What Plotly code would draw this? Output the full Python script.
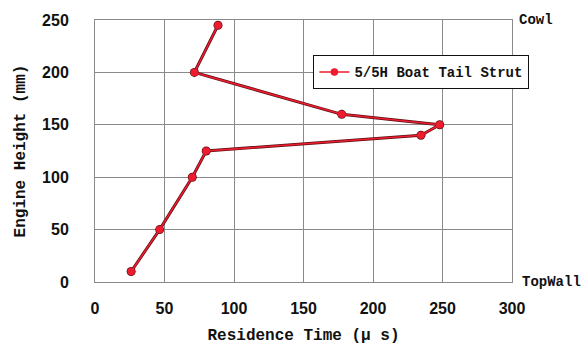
import plotly.graph_objects as go

# Residence time profile across engine height
residence_time_us = [88.5, 71.5, 177.5, 248, 234.5, 80, 70, 46.5, 26]
engine_height_mm = [245, 200, 160, 150, 140, 125, 100, 50, 10]
series_name = "5/5H Boat Tail Strut"

x_ticks = [0, 50, 100, 150, 200, 250, 300]
y_ticks = [0, 50, 100, 150, 200, 250]

mono = "Liberation Mono, DejaVu Sans Mono, monospace"
tick_font = dict(family="Liberation Sans Narrow, Liberation Sans, Arial", size=16, color="#111")

fig = go.Figure()

# dark under-stroke gives the line its outlined look
fig.add_trace(go.Scatter(
    x=residence_time_us, y=engine_height_mm, mode="lines+markers",
    line=dict(color="#5a1015", width=3.0),
    marker=dict(size=9, color="#5a1015"),
    showlegend=False, hoverinfo="skip",
))
fig.add_trace(go.Scatter(
    x=residence_time_us, y=engine_height_mm, mode="lines+markers",
    name="<b>" + series_name + "</b>",
    line=dict(color="#ee1c2e", width=1.6),
    marker=dict(size=7.5, color="#ee1c2e"),
))

fig.update_layout(
    width=582, height=352,
    margin=dict(l=95, r=70, t=18, b=70),
    paper_bgcolor="white", plot_bgcolor="white",
    showlegend=True,
    legend=dict(
        x=0.523, y=0.866, xanchor="left", yanchor="top",
        bgcolor="white", bordercolor="#111", borderwidth=1.3,
        font=dict(family=mono, size=14, color="#111"),
        itemwidth=30, tracegroupgap=0,
    ),
    annotations=[
        dict(text="<b>Cowl</b>", xref="paper", yref="paper", x=1.013, y=1.0,
             xanchor="left", yanchor="middle", showarrow=False,
             font=dict(family=mono, size=14, color="#111")),
        dict(text="<b>TopWall</b>", xref="paper", yref="paper", x=1.018, y=0.0,
             xanchor="left", yanchor="middle", showarrow=False,
             font=dict(family=mono, size=14, color="#111")),
    ],
)

fig.update_xaxes(
    range=[0, 300], tickvals=x_ticks, ticktext=["<b>%d</b>" % v for v in x_ticks],
    showgrid=True, gridcolor="#8a8a8a", gridwidth=1,
    showline=True, linecolor="#8a8a8a", linewidth=1, mirror=True,
    zeroline=False, ticks="", ticklabelstandoff=12,
    tickfont=tick_font,
    title=dict(text="<b>Residence Time (μ s)</b>", standoff=12,
               font=dict(family=mono, size=16, color="#111")),
)
fig.update_yaxes(
    range=[0, 250], tickvals=y_ticks, ticktext=["<b>%d</b>" % v for v in y_ticks],
    showgrid=True, gridcolor="#8a8a8a", gridwidth=1,
    showline=True, linecolor="#8a8a8a", linewidth=1, mirror=True,
    zeroline=False, ticks="", ticklabelstandoff=22,
    tickfont=tick_font,
    title=dict(text="<b>Engine Height (mm)</b>", standoff=12,
               font=dict(family=mono, size=16, color="#111")),
)

fig.write_html("out.html")
